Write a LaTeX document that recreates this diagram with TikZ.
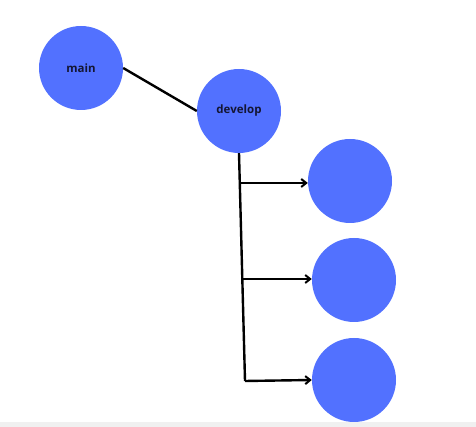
\documentclass[tikz,border=0pt]{standalone}
\usepackage{fontspec}
\setmainfont{Open Sans}
\usetikzlibrary{arrows.meta}
\definecolor{blob}{HTML}{5271FF}
\definecolor{labeltext}{HTML}{141633}
\definecolor{band}{HTML}{F0F0F0}
\begin{document}
\begin{tikzpicture}[x=1pt,y=1pt,
  blobnode/.style={circle,fill=blob,draw=none,minimum size=84pt,inner sep=0pt,
    font=\bfseries\fontsize{11.5}{13}\selectfont,text=labeltext},
  link/.style={line width=2.4pt,black},
  arr/.style={link,-{Straight Barb[length=5pt,width=8pt,line width=2pt]}}]
\useasboundingbox (0,0) rectangle (476,427);
\fill[band] (0,0) rectangle (476,5);
\node[blobnode] (main) at (81,359) {main};
\node[blobnode] (develop) at (239,316) {develop};
\node[blobnode] (c1) at (350,246) {};
\node[blobnode] (c2) at (354,147) {};
\node[blobnode] (c3) at (354,47) {};
\coordinate (b1) at (240,244);
\coordinate (b2) at (243,148);
\coordinate (bend) at (245,46);
\draw[link] (main.east) -- (develop.west);
\draw[link] (develop.south) -- (bend);
\draw[arr] (b1) -- (b1 -| c1.west);
\draw[arr] (b2) -- (b2 -| c2.west);
\draw[arr] (bend) -- (c3.west);
\end{tikzpicture}
\end{document}
